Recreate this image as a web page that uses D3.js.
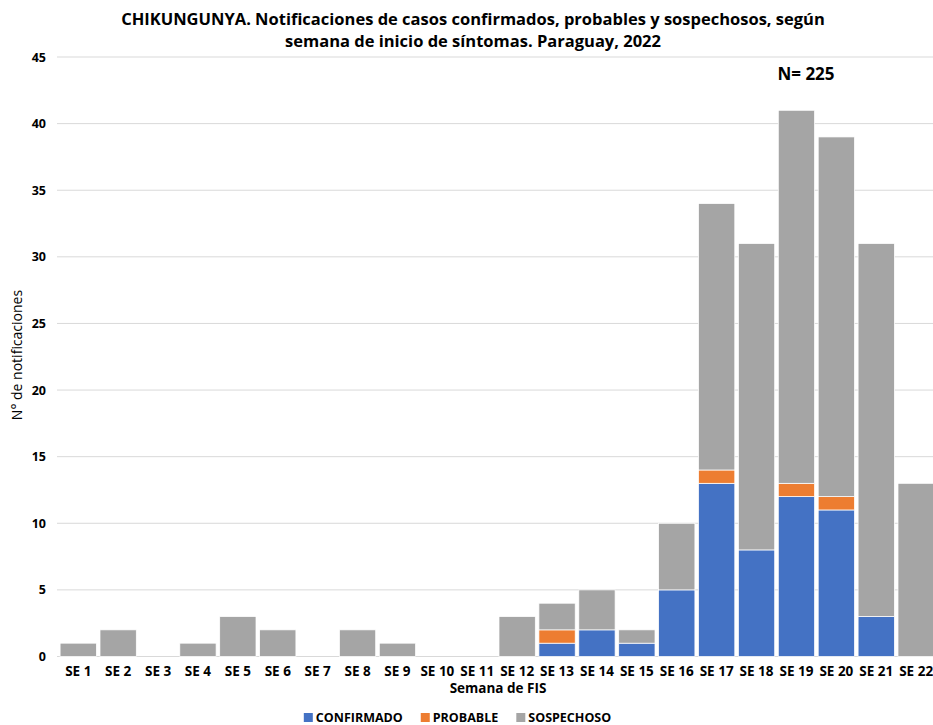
<!DOCTYPE html>
<html><head><meta charset="utf-8">
<script src="https://cdn.jsdelivr.net/npm/d3@7"></script>
<style>body{margin:0;background:#fff}svg{display:block;font-family:"Open Sans",sans-serif}</style>
</head><body><svg id="c" width="933" height="725"></svg>
<script>
const categories = ["SE 1","SE 2","SE 3","SE 4","SE 5","SE 6","SE 7","SE 8","SE 9","SE 10","SE 11","SE 12","SE 13","SE 14","SE 15","SE 16","SE 17","SE 18","SE 19","SE 20","SE 21","SE 22"];
const confirmado = [0,0,0,0,0,0,0,0,0,0,0,0,1,2,1,5,13,8,12,11,3,0];
const probable   = [0,0,0,0,0,0,0,0,0,0,0,0,1,0,0,0,1,0,1,1,0,0];
const sospechoso = [1,2,0,1,3,2,0,2,1,0,0,3,2,3,1,5,20,23,28,27,28,13];
const seriesNames = ["CONFIRMADO","PROBABLE","SOSPECHOSO"];
const colors = ["#4472C4","#ED7D31","#A5A5A5"];
const yTicks = [0,5,10,15,20,25,30,35,40,45];

const svg = d3.select("#c");
const x = d3.scaleBand().domain(categories).range([58.3, 936.1]).paddingInner(0.09).paddingOuter(0.045);
const y = d3.scaleLinear().domain([0,45]).range([656.5, 57]);

svg.append("g").selectAll("line").data(yTicks).join("line")
  .attr("x1",57).attr("x2",933).attr("y1",d=>y(d)).attr("y2",d=>y(d))
  .attr("stroke","#D9D9D9").attr("stroke-width",1);

const rows = categories.map((c,i)=>({cat:c, CONFIRMADO:confirmado[i], PROBABLE:probable[i], SOSPECHOSO:sospechoso[i]}));
const stacked = d3.stack().keys(seriesNames)(rows);
svg.append("g").selectAll("g").data(stacked).join("g")
  .attr("fill",(d,i)=>colors[i])
  .selectAll("rect").data(d=>d.filter(p=>p[1]-p[0]>0)).join("rect")
  .attr("x",d=>x(d.data.cat)).attr("width",x.bandwidth())
  .attr("y",d=>y(d[1])).attr("height",d=>y(d[0])-y(d[1]))
  .attr("stroke","#fff").attr("stroke-width",0.75);

const ya = svg.append("g").attr("transform","translate(46,0)")
  .call(d3.axisLeft(y).tickValues(yTicks).tickSize(0).tickPadding(0));
ya.select(".domain").remove();
ya.selectAll("text").attr("font-family","Open Sans").attr("font-weight",700).attr("font-size",12.5).attr("fill","#000");

const xa = svg.append("g").attr("transform","translate(0,"+y(0)+")")
  .call(d3.axisBottom(x).tickSize(0).tickPadding(10));
xa.select(".domain").remove();
xa.selectAll("text").attr("font-family","Open Sans").attr("font-weight",700).attr("font-size",13.5).attr("fill","#000");

const t = svg.append("text").attr("text-anchor","middle").attr("font-weight",700).attr("font-size",16.5).attr("fill","#000");
t.append("tspan").attr("x",473).attr("y",25).text("CHIKUNGUNYA. Notificaciones de casos confirmados, probables y sospechosos, según");
t.append("tspan").attr("x",473).attr("y",47).text("semana de inicio de síntomas. Paraguay, 2022");

svg.append("text").attr("x",806).attr("y",80).attr("text-anchor","middle").attr("font-weight",700).attr("font-size",17).text("N= 225");

svg.append("text").attr("transform","translate(22,355) rotate(-90)").attr("text-anchor","middle")
  .attr("font-size",14).attr("fill","#000").text("N° de notificaciones");
svg.append("text").attr("x",498).attr("y",693).attr("text-anchor","middle").attr("font-weight",700)
  .attr("font-size",13.5).attr("fill","#000").text("Semana de FIS");

const lg = svg.append("g");
const items = seriesNames.map((n,i)=>{
  const g = lg.append("g");
  g.append("rect").attr("x",0).attr("y",-9).attr("width",9).attr("height",9).attr("fill",colors[i]);
  const tx = g.append("text").attr("x",12).attr("y",0).attr("font-weight",700).attr("font-size",12.5).attr("fill","#000").text(n);
  return {g, w: 12 + tx.node().getComputedTextLength()};
});
const gap = 18;
const total = d3.sum(items, d=>d.w) + gap*(items.length-1);
let cx = 457.5 - total/2;
items.forEach(it=>{ it.g.attr("transform",`translate(${cx},722)`); cx += it.w + gap; });
</script></body></html>
